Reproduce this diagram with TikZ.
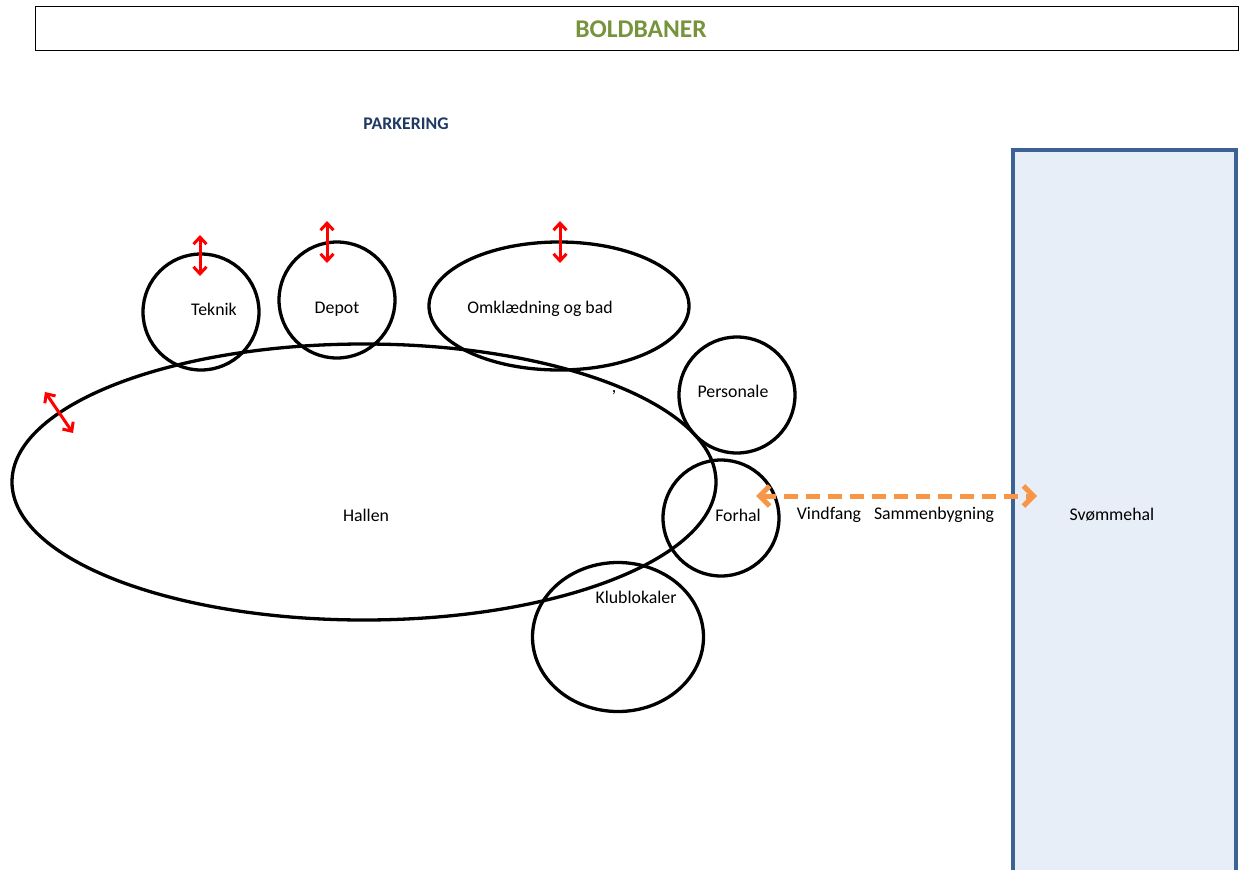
\documentclass[tikz,border=0pt]{standalone}
\usepackage{fontspec}
\setmainfont{Carlito}
\usetikzlibrary{arrows.meta,shapes.geometric}
\definecolor{bgreen}{HTML}{77933C}
\definecolor{pblue}{HTML}{1F3864}
\definecolor{sframe}{HTML}{3E6193}
\definecolor{sfill}{HTML}{E8EEF7}
\definecolor{aorange}{HTML}{F79646}
\tikzset{
  room/.style={draw=black, line width=3.3pt, inner sep=0pt},
  lbl/.style={font=\fontsize{17.8}{20}\selectfont, inner sep=0pt},
  redarr/.style={draw=red, line width=3pt, {Straight Barb[length=7pt,width=13pt]}-{Straight Barb[length=7pt,width=13pt]}},
  orarr/.style={draw=aorange, line width=5pt, dash pattern=on 14pt off 8pt, {Straight Barb[length=10pt,width=20pt]}-{Straight Barb[length=10pt,width=20pt]}}
}
\begin{document}
\begin{tikzpicture}[x=1pt,y=-1pt]
\useasboundingbox (0,0) rectangle (1240,870);
% top box
\node[draw=black, line width=1pt, minimum width=1203pt, minimum height=44pt, inner sep=0pt] (top) at (637,28) {};
\node[font=\bfseries\fontsize{25.5}{28}\selectfont, text=bgreen] (boldbaner) at (641,29) {BOLDBANER};
\node[font=\bfseries\fontsize{17.8}{20}\selectfont, text=pblue] (parkering) at (406,124) {PARKERING};
% svoemmehal
\node[draw=sframe, fill=sfill, line width=3.5pt, minimum width=223pt, minimum height=760pt, inner sep=0pt, anchor=north west] (svom) at (1011,148) {};
% rooms
\node[room, ellipse, minimum width=704pt, minimum height=276pt] (hallen) at (364,482) {};
\node[room, circle, minimum size=116pt] (teknik) at (201,312) {};
\node[room, circle, minimum size=116pt] (depot) at (337,300) {};
\node[room, ellipse, minimum width=260pt, minimum height=128pt] (omkl) at (559,306) {};
\node[room, circle, minimum size=116pt] (personale) at (737,395) {};
\node[room, circle, minimum size=116pt] (forhal) at (721,518) {};
\node[room, ellipse, minimum width=171pt, minimum height=149pt] (klub) at (618,637) {};
% labels
\node[lbl] (tTeknik) at (214,309) {Teknik};
\node[lbl] (tDepot) at (337,309) {Depot};
\node[lbl] (tOmkl) at (540,309) {Omklædning og bad};
\node[lbl] (tPers) at (733,391) {Personale};
\node[lbl] (tHallen) at (366,515) {Hallen};
\node[lbl] (tForhal) at (738,515) {Forhal};
\node[lbl] (tVind) at (829,515) {Vindfang};
\node[lbl] (tSamm) at (934,515) {Sammenbygning};
\node[lbl] (tSvom) at (1112,515) {Svømmehal};
\node[lbl] (tKlub) at (636,597) {Klublokaler};
\node[lbl] (komma) at (614,393) {,};
% arrows
\coordinate (a1s) at (200,235); \coordinate (a1e) at (200,276);
\coordinate (a2s) at (327,221); \coordinate (a2e) at (327,263);
\coordinate (a3s) at (560,221); \coordinate (a3e) at (560,263);
\coordinate (a4s) at (45,392); \coordinate (a4e) at (73,433);
\draw[redarr] (a1s) -- (a1e);
\draw[redarr] (a2s) -- (a2e);
\draw[redarr] (a3s) -- (a3e);
\draw[redarr] (a4s) -- (a4e);
\coordinate (o1) at (756,496); \coordinate (o2) at (1037,496);
\draw[orarr] (o1) -- (o2);
\end{tikzpicture}
\end{document}
